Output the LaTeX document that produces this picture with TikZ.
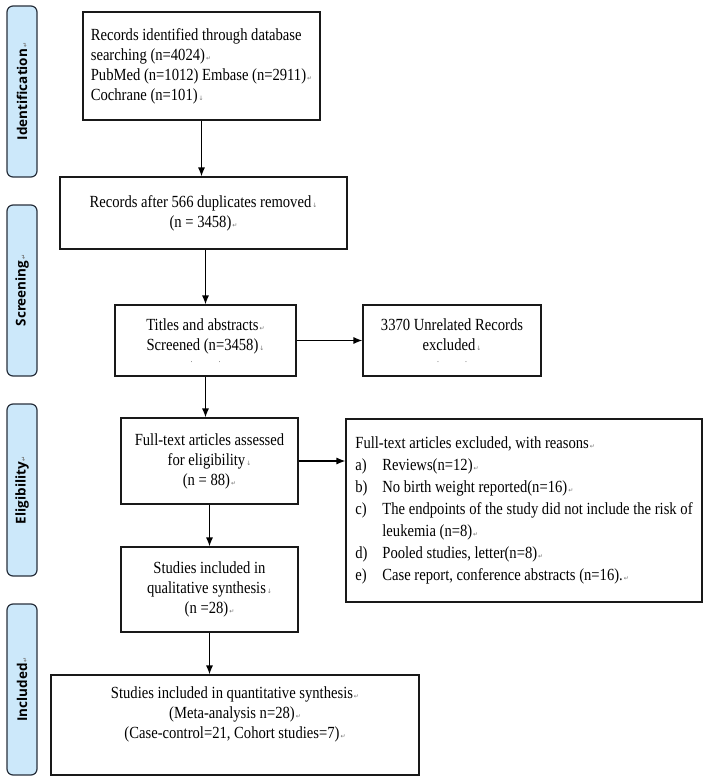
\documentclass[tikz,border=0pt]{standalone}
\usepackage{fontspec}
\setmainfont{Liberation Serif}[FakeStretch=0.86]
\newfontfamily\symfont{DejaVu Sans}
\newfontfamily\labfont{Open Sans}
\usetikzlibrary{arrows.meta}
\definecolor{phasefill}{RGB}{204,232,250}
\definecolor{phasedraw}{RGB}{40,48,60}
\newcommand\pmk{{\symfont\fontsize{6}{6}\selectfont\color{black!55}\,↵}}
\newcommand\dmk{{\symfont\fontsize{6}{6}\selectfont\color{black!55}\,↓}}
\newcommand\dotsline{\\[-8pt]{\fontsize{9}{9}\selectfont\color{black!60}.\hspace{26pt}.}}
\begin{document}
\begin{tikzpicture}[x=1pt,y=-1pt,
  box/.style={draw=black!90, line width=1.1pt, inner sep=0pt,
    font=\fontsize{17}{20}\selectfont, align=center},
  phase/.style={draw=phasedraw, fill=phasefill, line width=1.2pt, rounded corners=6pt,
    inner sep=0pt, rotate=90, minimum height=30pt,
    font=\labfont\bfseries\fontsize{13.5}{14}\selectfont},
  arr/.style={line width=1.2pt, -{Latex[length=9pt,width=7pt]}}]
\useasboundingbox (0,0) rectangle (708,781);
% phase labels
\node[phase, minimum width=171pt] (ph1) at (22,91.5) {Identification\pmk};
\node[phase, minimum width=171pt] (ph2) at (22,290.5) {Screening\pmk};
\node[phase, minimum width=172pt] (ph3) at (22,490) {Eligibility\pmk};
\node[phase, minimum width=171pt] (ph4) at (22,689.5) {Included\pmk};
% boxes
\node[box, minimum width=237pt, minimum height=108pt, align=left] (b1) at (201.5,66)
  {Records identified through database\\searching (n=4024)\pmk\\PubMed (n=1012) Embase (n=2911)\pmk\\Cochrane (n=101)\dmk};
\node[box, minimum width=287pt, minimum height=72pt] (b2) at (203.5,213)
  {Records after 566 duplicates removed\dmk\\(n = 3458)\pmk};
\node[box, minimum width=181pt, minimum height=71pt] (b3) at (205.5,340.5)
  {Titles and abstracts\pmk\\Screened (n=3458)\dmk\dotsline};
\node[box, minimum width=178pt, minimum height=71pt] (b4) at (452,340.5)
  {3370 Unrelated Records\\excluded\dmk\dotsline};
\node[box, minimum width=177pt, minimum height=86pt] (b5) at (209.5,461)
  {Full-text articles assessed\\for eligibility\dmk\\(n = 88)\pmk};
\node[box, minimum width=356pt, minimum height=183pt, align=left,
  font=\fontsize{17}{22}\selectfont] (b6) at (524,510.5)
  {Full-text articles excluded, with reasons\pmk\\
   \makebox[27pt][l]{a)}Reviews(n=12)\pmk\\
   \makebox[27pt][l]{b)}No birth weight reported(n=16)\pmk\\
   \makebox[27pt][l]{c)}The endpoints of the study did not include the risk of\\
   \hspace*{27pt}leukemia (n=8)\pmk\\
   \makebox[27pt][l]{d)}Pooled studies, letter(n=8)\pmk\\
   \makebox[27pt][l]{e)}Case report, conference abstracts (n=16).\pmk};
\node[box, minimum width=177pt, minimum height=85pt] (b7) at (209.5,589.5)
  {Studies included in\\qualitative synthesis\dmk\\(n =28)\pmk};
\node[box, minimum width=368pt, minimum height=100pt] (b8) at (235,725)
  {Studies included in quantitative synthesis\pmk\\(Meta-analysis n=28)\pmk\\(Case-control=21, Cohort studies=7)\pmk\\[4pt]\mbox{}};
% arrows
\draw[arr] (b1.south) -- (b1.south |- b2.north);
\draw[arr] (b3.north |- b2.south) -- (b3.north);
\draw[arr] (b3.east) -- (b4.west);
\draw[arr] (b3.south) -- (b3.south |- b5.north);
\draw[arr] (b5.east) -- (b5.east -| b6.west);
\draw[arr] (b5.south) -- (b7.north);
\draw[arr] (b7.south) -- (b7.south |- b8.north);
\end{tikzpicture}
\end{document}
